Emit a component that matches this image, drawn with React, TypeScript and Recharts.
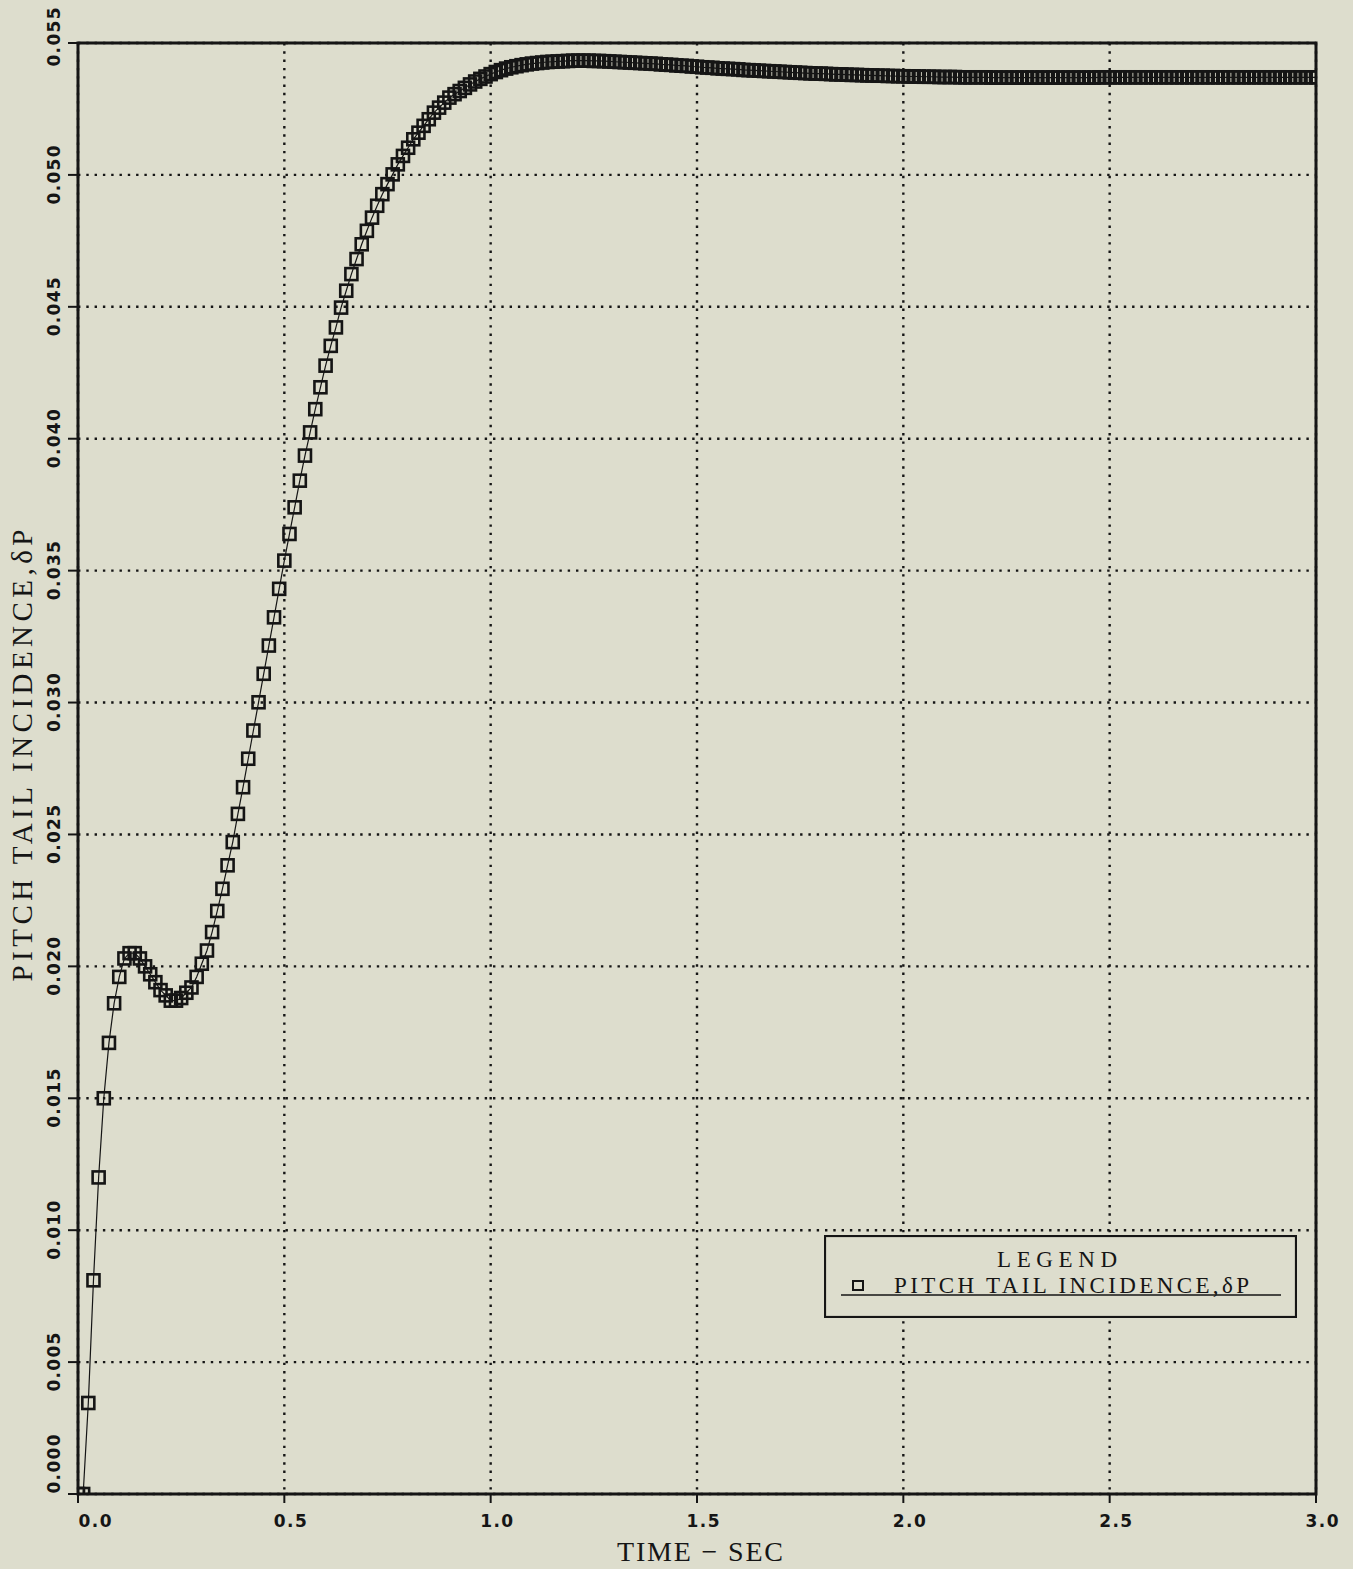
import { LineChart, Line, XAxis, YAxis, CartesianGrid, ReferenceArea, Legend, Label } from 'recharts'

const BG = '#ddddcd'
const INK = '#151515'

// sample interval of the simulation (s)
const DT = 0.0125

// pitch tail incidence, one value per DT from t = 0 to t = 3.0
const PITCH_TAIL_INCIDENCE = [
  0, 0, 0.00345, 0.0081, 0.012, 0.015, 0.0171, 0.0186,
  0.0196, 0.0203, 0.0205, 0.0205, 0.0203, 0.02, 0.0197, 0.0194,
  0.0191, 0.0189, 0.0187, 0.0187, 0.0188, 0.019, 0.0192, 0.0196,
  0.0201, 0.0206, 0.0213, 0.0221, 0.02294, 0.02383, 0.02471, 0.02578,
  0.02679, 0.02787, 0.02894, 0.03001, 0.03109, 0.03216, 0.03323, 0.03431,
  0.03538, 0.03639, 0.0374, 0.03841, 0.03936, 0.04024, 0.04112, 0.04195,
  0.04277, 0.04352, 0.04422, 0.04497, 0.04561, 0.04624, 0.04681, 0.04737,
  0.04788, 0.04838, 0.04883, 0.04927, 0.04965, 0.05002, 0.0504, 0.05072,
  0.05103, 0.05135, 0.0516, 0.05186, 0.05211, 0.05236, 0.05255, 0.05274,
  0.05293, 0.05306, 0.05318, 0.0533, 0.05343, 0.05354, 0.05364, 0.05373,
  0.05382, 0.0539, 0.05397, 0.05403, 0.05408, 0.05412, 0.05416, 0.05419,
  0.05422, 0.05424, 0.05426, 0.05428, 0.05429, 0.0543, 0.05431, 0.05432,
  0.05433, 0.05433, 0.05433, 0.05433, 0.05432, 0.05432, 0.05431, 0.0543,
  0.05429, 0.05428, 0.05427, 0.05426, 0.05425, 0.05424, 0.05423, 0.05422,
  0.05421, 0.05419, 0.05418, 0.05417, 0.05415, 0.05414, 0.05413, 0.05411,
  0.0541, 0.05408, 0.05407, 0.05406, 0.05404, 0.05403, 0.05402, 0.05401,
  0.054, 0.05398, 0.05397, 0.05396, 0.05395, 0.05394, 0.05393, 0.05392,
  0.05391, 0.0539, 0.05389, 0.05388, 0.05387, 0.05386, 0.05385, 0.05384,
  0.05384, 0.05383, 0.05382, 0.05381, 0.05381, 0.0538, 0.05379, 0.05379,
  0.05378, 0.05377, 0.05377, 0.05376, 0.05376, 0.05375, 0.05375, 0.05374,
  0.05374, 0.05373, 0.05373, 0.05373, 0.05372, 0.05372, 0.05372, 0.05371,
  0.05371, 0.05371, 0.05371, 0.0537, 0.0537, 0.0537, 0.0537, 0.0537,
  0.0537, 0.05369, 0.05369, 0.05369, 0.05369, 0.05369, 0.05369, 0.05369,
  0.05369, 0.05369, 0.05369, 0.05369, 0.05369, 0.05369, 0.05369, 0.05369,
  0.05369, 0.05369, 0.05369, 0.05369, 0.05369, 0.05369, 0.0537, 0.0537,
  0.0537, 0.0537, 0.0537, 0.0537, 0.0537, 0.0537, 0.0537, 0.0537,
  0.0537, 0.0537, 0.0537, 0.0537, 0.0537, 0.0537, 0.0537, 0.0537,
  0.0537, 0.0537, 0.0537, 0.0537, 0.0537, 0.0537, 0.0537, 0.0537,
  0.0537, 0.0537, 0.0537, 0.0537, 0.0537, 0.0537, 0.0537, 0.0537,
  0.0537, 0.0537, 0.0537, 0.0537, 0.0537, 0.0537, 0.0537, 0.0537,
  0.0537,
]

const X_TICKS = [0, 0.5, 1, 1.5, 2, 2.5, 3]
const Y_TICKS = [0, 0.005, 0.01, 0.015, 0.02, 0.025, 0.03, 0.035, 0.04, 0.045, 0.05, 0.055]

const SERIES_NAME = 'PITCH TAIL INCIDENCE,δP'
const X_TITLE = 'TIME − SEC'
const Y_TITLE = 'PITCH TAIL INCIDENCE,δP'

const data = PITCH_TAIL_INCIDENCE.map((v, i) => ({ t: i * DT, dp: v }))

const tickFont = { fontFamily: 'DejaVu Sans', fontWeight: 700, fontSize: 17, fill: INK }
const titleFont = { fontFamily: 'Liberation Serif', fontSize: 28, fill: INK }

const XTick = ({ x, y, payload }: any) => {
  // the first label sits inside the frame on the original plot
  const dx = payload.value === 0 ? 17 : 6
  return (
    <text x={x + dx} y={y + 22} textAnchor="middle" textLength={33} {...tickFont}>
      {Number(payload.value).toFixed(1)}
    </text>
  )
}

const YTick = ({ y, payload }: any) => {
  const v = payload.value
  const shift = v === 0 ? -30 : v === 0.055 ? -6 : 0
  const cx = 54
  const cy = y + shift
  return (
    <text
      x={cx} y={cy}
      transform={`rotate(-90, ${cx}, ${cy})`}
      textAnchor="middle" dominantBaseline="central"
      textLength={59} {...tickFont}
    >
      {Number(v).toFixed(3)}
    </text>
  )
}

const Square = (props: any) => {
  const { cx, cy, index } = props
  if (cx == null || cy == null) return <g key={index} />
  return (
    <rect key={index} x={cx - 6} y={cy - 6} width={12} height={12}
      fill="none" stroke={INK} strokeWidth={2.6} />
  )
}

const LegendBox = () => (
  <svg width={473} height={83} style={{ display: 'block' }}>
    <rect x={1} y={1} width={471} height={81} fill={BG} stroke={INK} strokeWidth={2.2} />
    <text x={233} y={32} textAnchor="middle" textLength={120} {...titleFont} fontSize={23}>LEGEND</text>
    <rect x={29} y={46} width={10} height={9} fill="none" stroke={INK} strokeWidth={2} />
    <text x={70} y={58} textLength={355} {...titleFont} fontSize={23}>{SERIES_NAME}</text>
    <line x1={17} x2={457} y1={60} y2={60} stroke={INK} strokeWidth={1.5} />
  </svg>
)

export default function App() {
  return (
    <div style={{ position: 'absolute', left: 0, top: 0, width: 1353, height: 1569, background: BG }}>
      <LineChart width={1353} height={1569} data={data} margin={{ top: 43, right: 37, bottom: 0, left: 0 }}>
        <CartesianGrid stroke={INK} strokeWidth={2.4} strokeDasharray="2.4 5.9" />
        <XAxis
          type="number" dataKey="t" domain={[0, 3]} ticks={X_TICKS} allowDataOverflow
          height={75} axisLine={false} tickSize={9}
          tickLine={{ stroke: INK, strokeWidth: 2 }}
          tick={<XTick />}
        >
          <Label content={({ viewBox }: any) => (
            <text x={viewBox.x + viewBox.width / 2 + 3} y={viewBox.y + 67}
              textAnchor="middle" textLength={166} {...titleFont}>{X_TITLE}</text>
          )} />
        </XAxis>
        <YAxis
          type="number" domain={[0, 0.055]} ticks={Y_TICKS} allowDataOverflow
          width={78} axisLine={false} tickSize={10}
          tickLine={{ stroke: INK, strokeWidth: 2 }}
          tick={<YTick />}
        >
          <Label content={({ viewBox }: any) => {
            const cx = 22
            const cy = viewBox.y + viewBox.height / 2 - 13
            return (
              <text x={cx} y={cy} transform={`rotate(-90, ${cx}, ${cy})`}
                textAnchor="middle" dominantBaseline="central"
                textLength={452} {...titleFont} fontSize={29}>{Y_TITLE}</text>
            )
          }} />
        </YAxis>
        <ReferenceArea x1={0} x2={3} y1={0} y2={0.055} fill="none" stroke={INK} strokeWidth={3} />
        <Line
          dataKey="dp" name={SERIES_NAME} type="linear"
          stroke={INK} strokeWidth={1.2}
          dot={Square} activeDot={false}
          isAnimationActive={false}
        />
        <Legend
          layout="horizontal" verticalAlign="middle" align="center"
          content={() => <LegendBox />}
          wrapperStyle={{ position: 'absolute', left: 824, top: 1235, width: 473, height: 83 }}
        />
      </LineChart>
    </div>
  )
}
